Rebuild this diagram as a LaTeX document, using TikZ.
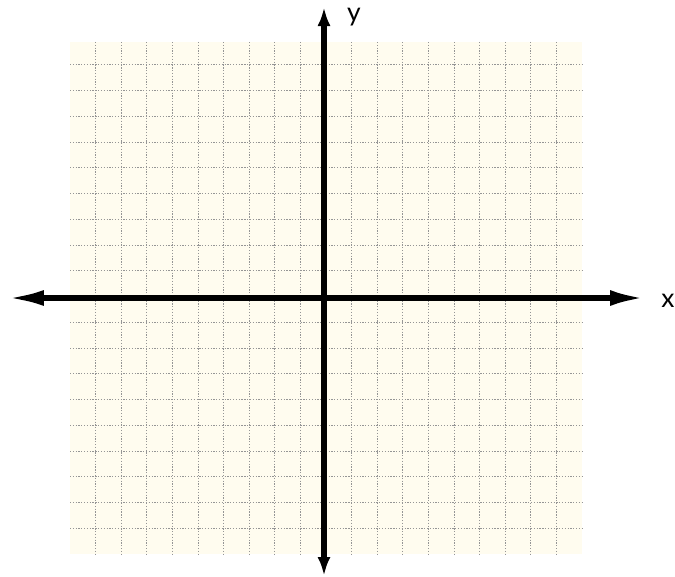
\documentclass[tikz,border=0pt]{standalone}
\usepackage{fontspec}
\setsansfont{Lato}
\usepackage{xcolor}
\definecolor{PaperCream}{HTML}{FFFCEF}
\definecolor{GridGray}{HTML}{959595}
\usetikzlibrary{arrows.meta, positioning}

\begin{document}
\begin{tikzpicture}[x=0.02cm, y=-0.02cm,
    gridline/.style={GridGray, line width=0.45pt, dash pattern=on 0.7pt off 0.9pt},
    axisline/.style={black, line width=2.9pt},
    axislabel/.style={font=\sffamily\fontsize{15}{17}\selectfont, inner sep=0pt}]
    % Canvas
    \useasboundingbox (0,0) rectangle (675,576);

    % Paper and grid
    \fill[PaperCream] (70,42) rectangle (582,554);
    \foreach \k in {1,...,19} {
        \draw[gridline] (70+25.6*\k, 42) -- (70+25.6*\k, 554); % vertical
        \draw[gridline] (70, 554-25.75*\k) -- (582, 554-25.75*\k); % horizontal
    }

    % Axes
    \coordinate (xneg) at (8,298);
    \coordinate (xpos) at (644,298);
    \coordinate (ypos) at (324,7);
    \coordinate (yneg) at (324,576);
    \draw[axisline, {Latex[length=0.72cm, width=0.32cm]}-{Latex[length=0.68cm, width=0.32cm]}] (xneg) -- (xpos);
    \draw[axisline, {Latex[length=0.38cm, width=0.26cm]}-{Latex[length=0.38cm, width=0.26cm]}] (yneg) -- (ypos);

    % Labels
    \node[axislabel] (xlabel) at (668,301) {x};
    \node[axislabel] (ylabel) at (354,17) {y};
\end{tikzpicture}
\end{document}
